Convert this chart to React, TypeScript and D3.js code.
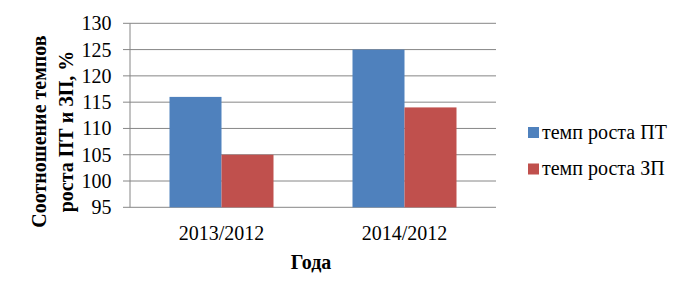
import React from "react";
import * as d3 from "d3";

const categories = ["2013/2012", "2014/2012"];
const seriesNames = ["темп роста ПТ", "темп роста ЗП"];
const ptValues = [116, 125];
const zpValues = [105, 114];
const yTicks = [95, 100, 105, 110, 115, 120, 125, 130];
const colors = ["#4F81BD", "#C0504D"];

export default function App() {
  const W = 694, H = 300;
  const left = 130, right = 496, top = 23.3, bottom = 207.3;
  const x = d3.scaleBand().domain(categories).range([left, right]).paddingInner(0).paddingOuter(0);
  const y = d3.scaleLinear().domain([95, 130]).range([bottom, top]);
  const series = [ptValues, zpValues];
  const barW = 52;
  const tf: React.CSSProperties = { fontFamily: "Liberation Serif, serif" };
  return (
    <svg width={W} height={H} style={{ position: "absolute", left: 0, top: 0, background: "#fff" }}>
      {yTicks.map((t) => (
        <g key={t}>
          <line x1={left - 7} x2={right} y1={y(t)} y2={y(t)} stroke="#868686" strokeWidth={1} />
          <text x={111.5} y={y(t) + 7} textAnchor="end" fontSize={20} fill="#000" style={tf}>{t}</text>
        </g>
      ))}
      <line x1={left} x2={left} y1={top} y2={bottom} stroke="#868686" strokeWidth={1} />
      {categories.map((c, i) => {
        const cx = (x(c) as number) + x.bandwidth() / 2;
        return (
          <g key={c}>
            {series.map((s, j) => (
              <rect key={j} x={cx - barW + j * barW} y={y(s[i])} width={barW} height={y(95) - y(s[i])} fill={colors[j]} />
            ))}
            <text x={cx} y={239.5} textAnchor="middle" fontSize={20} fill="#000" style={tf}>{c}</text>
          </g>
        );
      })}
      <text x={311} y={268.5} textAnchor="middle" fontSize={20} fontWeight="bold" fill="#000" style={tf}>Года</text>
      <text transform="translate(46,131.5) rotate(-90)" textAnchor="middle" fontSize={20} fontWeight="bold" fill="#000" style={tf}>Соотношение темпов</text>
      <text transform="translate(72.5,131.5) rotate(-90)" textAnchor="middle" fontSize={20} fontWeight="bold" fill="#000" style={tf}>роста ПТ и ЗП, %</text>
      {seriesNames.map((n, i) => (
        <g key={n}>
          <rect x={528} y={127 + i * 36.5} width={11} height={11} fill={colors[i]} />
          <text x={542} y={138.5 + i * 36.5} fontSize={20} fill="#000" style={tf}>{n}</text>
        </g>
      ))}
    </svg>
  );
}
